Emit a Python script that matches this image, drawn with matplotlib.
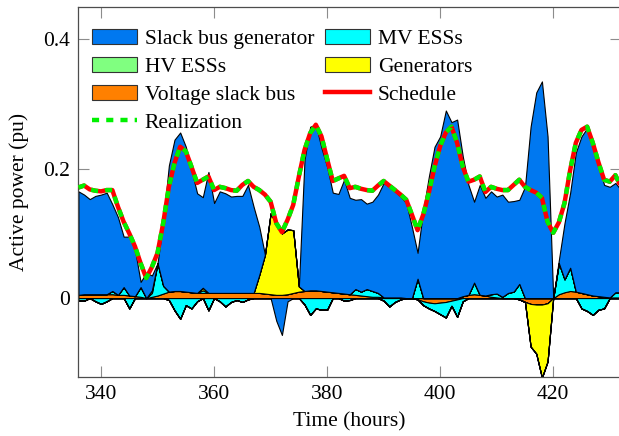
import numpy as np
import matplotlib
matplotlib.use("Agg")
import matplotlib.pyplot as plt
from matplotlib.patches import Patch
from matplotlib.lines import Line2D

plt.rcParams['font.family'] = ['Liberation Serif', 'DejaVu Serif']
plt.rcParams['font.size'] = 15.5

hours = list(range(336, 433))

schedule = [0.171, 0.174, 0.168, 0.166, 0.165, 0.167, 0.167, 0.141, 0.118, 0.100,
            0.080, 0.054, 0.031, 0.048, 0.070, 0.116, 0.172, 0.209, 0.234, 0.227,
            0.203, 0.178, 0.183, 0.188, 0.167, 0.172, 0.170, 0.167, 0.166, 0.175,
            0.181, 0.172, 0.167, 0.160, 0.149, 0.116, 0.102, 0.121, 0.144, 0.188,
            0.229, 0.255, 0.268, 0.250, 0.215, 0.181, 0.185, 0.189, 0.170, 0.172,
            0.169, 0.167, 0.166, 0.174, 0.181, 0.174, 0.167, 0.160, 0.152, 0.129,
            0.105, 0.129, 0.163, 0.203, 0.235, 0.256, 0.265, 0.240, 0.203, 0.180,
            0.183, 0.188, 0.164, 0.172, 0.169, 0.167, 0.167, 0.175, 0.183, 0.172,
            0.167, 0.163, 0.155, 0.118, 0.101, 0.117, 0.147, 0.198, 0.240, 0.260,
            0.265, 0.240, 0.210, 0.183, 0.180, 0.190, 0.172]

realization = [0.171, 0.174, 0.168, 0.166, 0.165, 0.167, 0.167, 0.141, 0.118, 0.100,
               0.080, 0.054, 0.031, 0.048, 0.070, 0.116, 0.172, 0.209, 0.234, 0.227,
               0.203, 0.178, 0.183, 0.188, 0.167, 0.172, 0.170, 0.167, 0.166, 0.175,
               0.181, 0.172, 0.167, 0.160, 0.149, 0.116, 0.102, 0.121, 0.144, 0.188,
               0.229, 0.255, 0.268, 0.250, 0.215, 0.181, 0.185, 0.189, 0.170, 0.172,
               0.169, 0.167, 0.166, 0.174, 0.181, 0.174, 0.167, 0.160, 0.152, 0.129,
               0.105, 0.129, 0.163, 0.203, 0.235, 0.256, 0.265, 0.240, 0.203, 0.180,
               0.183, 0.188, 0.164, 0.172, 0.169, 0.167, 0.167, 0.175, 0.183, 0.172,
               0.167, 0.163, 0.155, 0.118, 0.101, 0.117, 0.147, 0.198, 0.240, 0.260,
               0.265, 0.240, 0.210, 0.183, 0.180, 0.190, 0.172]

slack_gen = [0.160, 0.154, 0.147, 0.152, 0.154, 0.157, 0.134, 0.120, 0.078, 0.091,
             0.072, 0.008, 0.039, 0.023, 0.000, 0.100, 0.195, 0.234, 0.245, 0.224,
             0.189, 0.154, 0.140, 0.187, 0.139, 0.157, 0.154, 0.149, 0.150, 0.150,
             0.167, 0.133, 0.074, 0.000, 0.000, -0.035, -0.057, -0.005, 0.000, 0.000,
             0.203, 0.253, 0.256, 0.221, 0.193, 0.154, 0.153, 0.176, 0.149, 0.138,
             0.143, 0.132, 0.138, 0.152, 0.177, 0.171, 0.164, 0.156, 0.147, 0.110,
             0.040, 0.136, 0.188, 0.234, 0.250, 0.290, 0.272, 0.276, 0.216, 0.170,
             0.125, 0.170, 0.151, 0.159, 0.150, 0.158, 0.141, 0.140, 0.130, 0.172,
             0.265, 0.318, 0.335, 0.250, 0.000, 0.005, 0.087, 0.116, 0.215, 0.242,
             0.257, 0.238, 0.206, 0.173, 0.171, 0.169, 0.158]

hv_ess = [0.0] * 97

voltage_slack = [0.005, 0.006, 0.006, 0.006, 0.006, 0.006, 0.006, 0.005, 0.005, 0.004,
                 0.003, 0.002, 0.000, 0.002, 0.004, 0.007, 0.010, 0.011, 0.011, 0.010,
                 0.009, 0.008, 0.008, 0.008, 0.008, 0.008, 0.008, 0.008, 0.008, 0.008,
                 0.008, 0.008, 0.008, 0.007, 0.006, 0.005, 0.005, 0.006, 0.008, 0.010,
                 0.011, 0.012, 0.012, 0.011, 0.010, 0.009, 0.008, 0.007, 0.006, 0.005,
                 0.004, 0.003, 0.002, 0.002, 0.001, 0.001, 0.001, 0.001, 0.000, 0.000,
                 -0.002, -0.005, -0.007, -0.008, -0.007, -0.006, -0.004, -0.002, 0.003, 0.005,
                 0.006, 0.005, 0.004, 0.002, 0.001, 0.000, 0.000, 0.000, -0.002, -0.006,
                 -0.009, -0.010, -0.010, -0.008, 0.000, 0.006, 0.009, 0.011, 0.010, 0.008,
                 0.006, 0.004, 0.003, 0.002, 0.001, 0.001, 0.001]

mv_ess = [-0.004, -0.004, 0.000, -0.005, -0.009, -0.005, 0.005, 0.000, 0.012, -0.016,
          0.000, 0.015, 0.000, 0.006, 0.050, 0.012, -0.003, -0.019, -0.032, -0.011,
          -0.016, -0.005, 0.004, -0.019, 0.000, -0.005, -0.013, -0.006, -0.003, -0.006,
          -0.002, 0.000, 0.000, 0.000, 0.000, 0.000, 0.000, 0.000, 0.000, 0.000,
          -0.010, -0.026, -0.016, -0.018, -0.018, 0.000, 0.000, -0.004, -0.003, 0.009,
          0.006, 0.011, 0.009, 0.006, -0.004, -0.013, -0.006, -0.002, 0.000, 0.000,
          0.030, -0.006, -0.009, -0.012, -0.018, -0.024, -0.008, -0.027, -0.005, 0.000,
          0.018, 0.000, 0.000, 0.004, 0.006, 0.002, 0.008, 0.010, 0.022, 0.000,
          0.000, 0.000, 0.000, 0.000, 0.000, 0.048, 0.020, 0.036, 0.000, -0.016,
          -0.020, -0.026, -0.018, -0.016, 0.000, 0.008, 0.008]

generators = [0.0, 0.0, 0.0, 0.0, 0.0, 0.0, 0.0, 0.0, 0.0, 0.0,
              0.0, 0.0, 0.0, 0.004, 0.0, 0.0, 0.0, 0.0, 0.0, 0.0,
              0.0, 0.0, 0.004, 0.0, 0.0, 0.0, 0.0, 0.0, 0.0, 0.0,
              0.0, 0.0, 0.028, 0.060, 0.125, 0.110, 0.095, 0.100, 0.097, 0.008,
              0.0, 0.0, 0.0, 0.0, 0.0, 0.0, 0.0, 0.0, 0.0, 0.0,
              0.0, 0.0, 0.0, 0.0, 0.0, 0.0, 0.0, 0.0, 0.0, 0.0,
              0.0, 0.0, 0.0, 0.0, 0.0, 0.0, 0.0, 0.0, 0.0, 0.0,
              0.0, 0.0, 0.0, 0.0, 0.0, 0.0, 0.0, 0.0, 0.0, 0.0,
              -0.066, -0.076, -0.113, -0.090, 0.0, 0.0, 0.0, 0.0, 0.0, 0.0,
              0.0, 0.0, 0.0, 0.0, 0.0, 0.0, 0.0]

colors = {"Slack bus generator": "#0078F0", "HV ESSs": "#80FF80",
          "Voltage slack bus": "#FF8000", "MV ESSs": "#00FFFF", "Generators": "#FFFF00"}

fig = plt.figure(figsize=(6.19, 4.36), dpi=100)
ax = fig.add_axes([0.1267, 0.1353, 0.8766, 0.8486])

t = np.array(hours, dtype=float)
stack = [("Voltage slack bus", voltage_slack), ("MV ESSs", mv_ess),
         ("Generators", generators), ("HV ESSs", hv_ess),
         ("Slack bus generator", slack_gen)]
pos_base = np.zeros_like(t)
neg_base = np.zeros_like(t)
for name, vals in stack:
    v = np.array(vals, dtype=float)
    pos = np.clip(v, 0, None)
    neg = np.clip(v, None, 0)
    ax.fill_between(t, pos_base, pos_base + pos, facecolor=colors[name],
                    edgecolor="black", linewidth=0.8, zorder=2)
    ax.fill_between(t, neg_base, neg_base + neg, facecolor=colors[name],
                    edgecolor="black", linewidth=0.8, zorder=2)
    pos_base = pos_base + pos
    neg_base = neg_base + neg

ax.plot(t, schedule, color="#FF0000", linewidth=3.2, zorder=3, solid_capstyle="butt")
ax.plot(t, realization, color="#00F000", linewidth=3.2, zorder=4,
        linestyle=(0, (1.6, 1.6)))

ax.set_xlim(336, 432)
ax.set_ylim(-0.122, 0.45)
ax.set_xticks([340, 360, 380, 400, 420])
ax.set_yticks([0, 0.2, 0.4])
ax.set_yticklabels(["0", "0.2", "0.4"])
ax.tick_params(direction="in", length=8, width=0.8, color="0.55",
               top=True, right=True, pad=6)
for s in ax.spines.values():
    s.set_color("0.3")
    s.set_linewidth(0.9)
ax.set_xlabel("Time (hours)", labelpad=6)
ax.set_ylabel("Active power (pu)", labelpad=10)

handles = [
    Patch(facecolor=colors["Slack bus generator"], edgecolor="0.2", linewidth=0.8),
    Patch(facecolor=colors["HV ESSs"], edgecolor="0.2", linewidth=0.8),
    Patch(facecolor=colors["Voltage slack bus"], edgecolor="0.2", linewidth=0.8),
    Line2D([], [], color="#00F000", linewidth=3.2, linestyle=(0, (1.6, 1.6))),
    Patch(facecolor=colors["MV ESSs"], edgecolor="0.2", linewidth=0.8),
    Patch(facecolor=colors["Generators"], edgecolor="0.2", linewidth=0.8),
    Line2D([], [], color="#FF0000", linewidth=3.2),
]
leg_labels = ["Slack bus generator", "HV ESSs", "Voltage slack bus", "Realization",
              "MV ESSs", "Generators", "Schedule"]
ax.legend(handles, leg_labels, ncol=2, loc="upper left",
          bbox_to_anchor=(0.025, 0.94), frameon=False, borderpad=0,
          handlelength=2.1, handleheight=0.7, handletextpad=0.35,
          labelspacing=0.36, columnspacing=0.5, borderaxespad=0)

fig.savefig("out.png", dpi=100)
